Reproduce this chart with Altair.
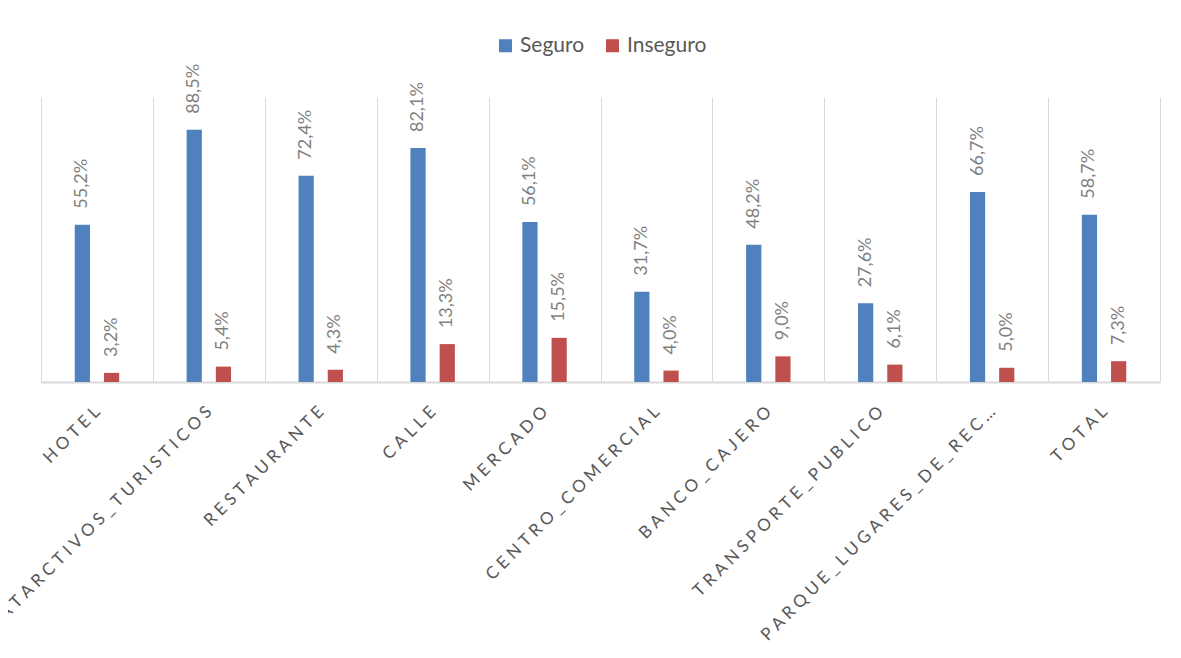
import altair as alt
import pandas as pd

categorias = ["HOTEL", "ATARCTIVOS_TURISTICOS", "RESTAURANTE", "CALLE", "MERCADO",
              "CENTRO_COMERCIAL", "BANCO_CAJERO", "TRANSPORTE_PUBLICO",
              "PARQUE_LUGARES_DE_RECREACION", "TOTAL"]
seguro = [55.2, 88.5, 72.4, 82.1, 56.1, 31.7, 48.2, 27.6, 66.7, 58.7]
inseguro = [3.2, 5.4, 4.3, 13.3, 15.5, 4.0, 9.0, 6.1, 5.0, 7.3]
series = ["Seguro", "Inseguro"]
colores = ["#4F81BD", "#C0504D"]

rows = []
for i, c in enumerate(categorias):
    for s, vals in zip(series, [seguro, inseguro]):
        v = vals[i]
        rows.append({"categoria": c, "serie": s, "valor": v,
                     "etiqueta": f"{v:.1f}".replace(".", ",") + "%"})
df = pd.DataFrame(rows)

FONT = "Lato"

x = alt.X("categoria:N", sort=categorias, title=None,
          scale=alt.Scale(paddingInner=0, paddingOuter=0),
          axis=alt.Axis(labelAngle=-45, labelAlign="right", labelBaseline="middle",
                        labelPadding=27, labelFontSize=17, labelColor="#595959",
                        labelFont=FONT, labelLimit=328,
                        labelExpr="join(split(datum.label, ''), '\u2005')",
                        ticks=False, tickBand="extent", grid=True,
                        gridColor="#d9d9d9", gridWidth=1,
                        domainColor="#d9d9d9", domainWidth=2))
xo = alt.XOffset("serie:N",
                 scale=alt.Scale(domain=["_a"] + series + ["_b"],
                                 paddingInner=0.479, paddingOuter=0.155))
y = alt.Y("valor:Q", scale=alt.Scale(domain=[0, 100]), axis=None)

bars = alt.Chart(df).mark_bar().encode(
    x=x, xOffset=xo, y=y,
    color=alt.Color("serie:N", sort=series,
                    scale=alt.Scale(domain=series, range=colores),
                    legend=alt.Legend(title=None, orient="none", direction="horizontal",
                                      legendX=454, legendY=-62, padding=0,
                                      symbolType="square", symbolSize=170,
                                      symbolStrokeWidth=0, labelFontSize=21,
                                      labelColor="#595959", labelFont=FONT,
                                      columnPadding=17, labelOffset=4))
)

texts = alt.Chart(df).mark_text(angle=270, align="left", baseline="middle", dx=16,
                                fontSize=18, color="#7f7f7f", font=FONT).encode(
    x=x, xOffset=xo, y=y, text="etiqueta:N"
)

chart = alt.layer(bars, texts).properties(
    width=1119, height=285,
    padding={"left": 33, "top": 89, "right": 5, "bottom": 264},
    autosize=alt.AutoSizeParams(type="none"),
).configure_view(stroke="transparent")

chart.save("out.html", embed_options={"renderer": "svg", "actions": False})
